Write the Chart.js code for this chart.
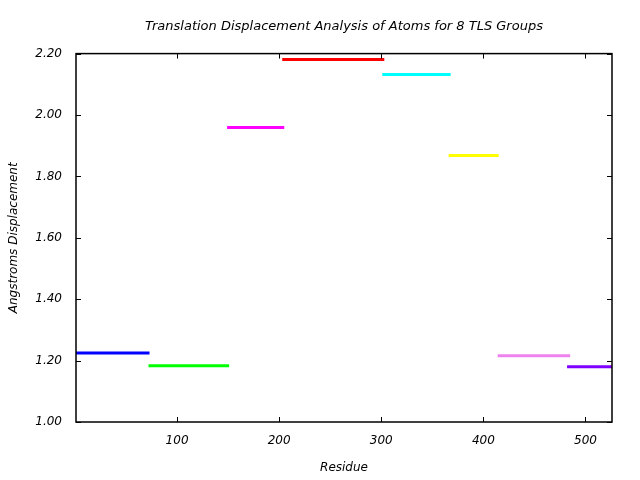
<!DOCTYPE html>
<html>
<head>
<meta charset="utf-8">
<script src="https://cdn.jsdelivr.net/npm/chart.js@4"></script>
<style>
  html, body { margin: 0; padding: 0; background: #fff; }
  #wrap { width: 640px; height: 480px; }
</style>
</head>
<body>
<div id="wrap"><canvas id="tls"></canvas></div>
<script>
// ===============================
// DATA
// ===============================
const groupStart = [1, 72, 149, 203, 301, 366, 414, 482];
const groupEnd   = [73, 151, 205, 303, 368, 415, 485, 527];
const displacement = [1.225, 1.183, 1.959, 2.181, 2.132, 1.868, 1.216, 1.180];
const groupColors = ["#0000ff", "#00ff00", "#ff00ff", "#ff0000", "#00ffff", "#ffff00", "#ee82ee", "#8000ff"];
const xTicks = [100, 200, 300, 400, 500];
const yTicks = [1.0, 1.2, 1.4, 1.6, 1.8, 2.0, 2.2];

const FONT = "'DejaVu Sans', sans-serif";

// ===============================
// DATASETS: one flat segment per TLS group
// ===============================
const datasets = displacement.map((v, i) => ({
  label: "TLS group " + (i + 1),
  data: [{ x: groupStart[i], y: v }, { x: groupEnd[i], y: v }],
  borderColor: groupColors[i],
  borderWidth: 3,
  borderCapStyle: "butt",
  pointRadius: 0,
  fill: false
}));

// ===============================
// FRAME + INWARD TICKS (gnuplot style)
// ===============================
const frameTicks = {
  id: "frameTicks",
  afterDraw(chart) {
    const { ctx, chartArea: a, scales } = chart;
    const len = 5;
    ctx.save();
    ctx.strokeStyle = "#000";
    ctx.lineWidth = 1;
    ctx.beginPath();
    scales.x.ticks.forEach(t => {
      const px = Math.round(scales.x.getPixelForValue(t.value)) + 0.5;
      ctx.moveTo(px, a.bottom); ctx.lineTo(px, a.bottom - len);
      ctx.moveTo(px, a.top); ctx.lineTo(px, a.top + len);
    });
    scales.y.ticks.forEach(t => {
      const py = Math.round(scales.y.getPixelForValue(t.value)) + 0.5;
      ctx.moveTo(a.left, py); ctx.lineTo(a.left + len, py);
      ctx.moveTo(a.right, py); ctx.lineTo(a.right - len, py);
    });
    ctx.stroke();
    ctx.lineWidth = 1.5;
    ctx.strokeRect(a.left, a.top, a.right - a.left, a.bottom - a.top);
    ctx.restore();
  }
};

new Chart(document.getElementById("tls"), {
  type: "line",
  data: { datasets },
  plugins: [frameTicks],
  options: {
    responsive: true,
    maintainAspectRatio: false,
    animation: false,
    layout: { padding: { left: 0, right: 28, top: 0, bottom: 0 } },
    plugins: {
      legend: { display: false },
      tooltip: { enabled: false },
      title: {
        display: true,
        fullSize: false,
        text: "Translation Displacement Analysis of Atoms for 8 TLS Groups",
        color: "#000",
        font: { family: FONT, size: 13, style: "italic", weight: "normal" },
        padding: { top: 19, bottom: 19 }
      }
    },
    scales: {
      x: {
        type: "linear",
        min: 1,
        max: 526,
        afterBuildTicks: s => { s.ticks = xTicks.map(v => ({ value: v })); },
        afterFit: s => { s.height = 58; },
        grid: { display: false, drawTicks: false },
        border: { display: false },
        ticks: {
          color: "#000",
          padding: 12,
          font: { family: FONT, size: 12, style: "italic" },
          callback: v => String(v)
        },
        title: {
          display: true,
          text: "Residue",
          color: "#000",
          font: { family: FONT, size: 12, style: "italic" },
          padding: { top: 4, bottom: 5 }
        }
      },
      y: {
        type: "linear",
        min: 1.0,
        max: 2.2,
        afterBuildTicks: s => { s.ticks = yTicks.map(v => ({ value: v })); },
        afterFit: s => { s.width = 76; },
        grid: { display: false, drawTicks: false },
        border: { display: false },
        ticks: {
          color: "#000",
          padding: 14,
          font: { family: FONT, size: 12, style: "italic" },
          callback: v => Number(v).toFixed(2)
        },
        title: {
          display: true,
          text: "Angstroms Displacement",
          color: "#000",
          font: { family: FONT, size: 12, style: "italic" },
          padding: { top: 7, bottom: 0 }
        }
      }
    }
  }
});
</script>
</body>
</html>
